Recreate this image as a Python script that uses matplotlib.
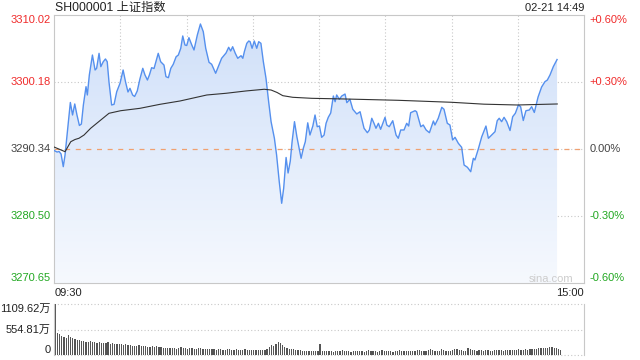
import numpy as np
import matplotlib
matplotlib.use('Agg')
import matplotlib.pyplot as plt
from matplotlib.colors import LinearSegmentedColormap

# minutes since 09:30 (lunch break removed, 240 = 15:00)
price_min = [0, 1.4, 2.3, 3.2, 4.2, 5.0, 7.4, 8.4, 9.4, 10.4, 11.5, 12.4, 13.3, 14.5, 15.1, 16.0,
             17.4, 18.6, 19.3, 20.4, 21.2, 22.3, 23.3, 24.1, 24.9, 26.1, 27.2, 28.4, 29.9, 31.3,
             32.4, 33.5, 34.4, 35.6, 36.5, 37.7, 38.9, 40.2, 41.2, 42.3, 43.2, 44.2, 45.3, 47.2,
             48.3, 49.8, 50.7, 51.8, 52.9, 54.0, 55.3, 56.3, 57.4, 58.3, 59.3, 60.1, 61.1, 62.4,
             63.4, 64.9, 66.3, 67.6, 68.7, 70.2, 71.4, 73.2, 74.4, 75.9, 77.9, 79.1, 80.0, 80.9,
             82.1, 83.2, 84.7, 85.5, 86.2, 87.3, 88.2, 88.8, 89.7, 90.7, 91.8, 92.7, 93.7, 94.8,
             96.0, 97.2, 98.3, 99.8, 100.8, 102.0, 103.1, 104.0, 105.1, 106.0, 107.0, 107.8, 108.9,
             110.0, 110.9, 111.9, 112.9, 113.8, 114.9, 115.9, 117.2, 118.2, 119.2, 120.2, 121.2,
             122.3, 123.2, 124.2, 125.3, 126.5, 127.3, 128.0, 129.2, 130.3, 131.8, 132.6, 134.0,
             135.3, 137.1, 138.6, 140.4, 141.9, 142.8, 143.9, 144.9, 145.8, 146.9, 147.9, 149.9,
             150.7, 151.8, 153.4, 154.9, 155.9, 157.0, 158.5, 159.7, 160.6, 161.5, 163.5, 164.2,
             166.1, 167.2, 168.5, 170.0, 171.8, 172.5, 174.0, 175.6, 176.6, 178.1, 179.3, 180.5,
             181.6, 183.1, 184.6, 185.7, 187.2, 188.7, 189.9, 190.6, 192.1, 193.7, 195.6, 196.7,
             198.2, 199.7, 200.7, 201.6, 202.7, 203.8, 205.0, 206.5, 207.7, 208.9, 210.3, 211.3,
             212.5, 213.7, 215.2, 216.3, 217.5, 219.2, 220.8, 222.3, 223.4, 224.6, 226.1, 227.8]
price_val = [3290.12, 3289.89, 3289.97, 3289.60, 3287.74, 3289.45, 3297.17, 3295.33, 3296.95,
             3295.33, 3293.79, 3294.01, 3296.80, 3299.49, 3298.27, 3301.21, 3304.14, 3301.94,
             3302.19, 3304.39, 3302.43, 3303.16, 3303.56, 3303.16, 3300.18, 3296.80, 3296.90,
             3298.75, 3299.99, 3301.94, 3300.18, 3298.71, 3299.25, 3298.27, 3298.05, 3298.86,
             3300.62, 3302.19, 3301.21, 3300.47, 3301.21, 3302.28, 3302.16, 3304.39, 3303.16,
             3302.67, 3300.96, 3300.81, 3302.19, 3302.78, 3303.89, 3304.14, 3305.13, 3306.94,
             3305.61, 3305.54, 3306.69, 3305.61, 3304.88, 3307.08, 3308.70, 3307.57, 3305.13,
             3303.07, 3302.78, 3301.46, 3302.43, 3303.66, 3304.44, 3305.28, 3304.73, 3305.36,
             3304.39, 3303.66, 3304.04, 3303.66, 3304.63, 3305.86, 3306.20, 3306.10, 3305.13,
             3306.20, 3305.13, 3306.10, 3305.86, 3303.16, 3300.72, 3297.28, 3294.35, 3291.91,
             3289.45, 3285.53, 3282.36, 3284.56, 3289.09, 3286.81, 3288.57, 3291.36, 3294.35,
             3292.10, 3290.63, 3288.97, 3290.44, 3291.41, 3294.18, 3292.39, 3293.71, 3295.33,
             3293.61, 3293.71, 3292.05, 3292.39, 3294.11, 3294.99, 3295.62, 3298.12, 3297.28,
             3298.27, 3297.64, 3298.12, 3298.41, 3297.14, 3297.64, 3296.17, 3295.48, 3295.81,
             3293.38, 3292.73, 3293.13, 3294.85, 3294.11, 3293.38, 3294.11, 3293.23, 3294.99,
             3293.86, 3293.61, 3294.49, 3292.39, 3291.91, 3293.13, 3293.13, 3294.11, 3293.71,
             3295.67, 3295.96, 3295.81, 3293.61, 3293.86, 3293.13, 3292.73, 3294.45, 3293.86,
             3294.85, 3296.46, 3296.17, 3294.11, 3293.86, 3291.66, 3292.05, 3291.17, 3290.58,
             3287.98, 3287.65, 3287.00, 3288.97, 3288.72, 3290.29, 3292.14, 3293.71, 3291.91,
             3292.39, 3292.88, 3294.49, 3294.85, 3294.35, 3294.99, 3294.35, 3293.05, 3295.08,
             3295.58, 3296.80, 3296.55, 3294.52, 3295.96, 3296.06, 3296.55, 3295.70, 3297.97,
             3299.44, 3300.22, 3300.47, 3301.21, 3302.43, 3303.48]

avg_min = [0, 2.7, 5.0, 7.6, 9.5, 11.3, 13.6, 16.6, 21.2, 24.9, 30.2, 38.9, 48.0, 57.1, 69.2,
           77.9, 86.9, 95.2, 98.3, 101.0, 103.6, 108.1, 116.8, 131.9, 155.8, 179.9, 194.7,
           209.8, 227.9]
avg_val = [3290.63, 3290.26, 3289.94, 3291.41, 3291.73, 3291.91, 3292.39, 3293.38, 3294.60,
           3295.58, 3295.96, 3296.31, 3296.90, 3297.39, 3298.27, 3298.52, 3298.86, 3299.11,
           3299.00, 3298.64, 3298.17, 3297.93, 3297.78, 3297.68, 3297.49, 3297.20, 3296.92,
           3296.80, 3296.95]

# volume per minute, in 万
volume = [1109.62, 472, 450, 420, 400, 380, 430, 400, 370, 350,
          330, 320, 300, 310, 290, 285, 300, 290, 275, 270,
          280, 270, 260, 265, 275, 250, 260, 245, 240, 250,
          235, 225, 240, 210, 220, 200, 205, 195, 210, 190,
          185, 195, 180, 175, 190, 170, 200, 180, 165, 160,
          150, 155, 145, 160, 150, 140, 145, 170, 150, 145,
          140, 145, 150, 135, 140, 150, 145, 130, 125, 135,
          120, 130, 125, 115, 120, 125, 110, 115, 125, 120,
          110, 115, 120, 105, 110, 115, 120, 110, 105, 115,
          110, 105, 100, 110, 105, 115, 125, 180, 210, 200,
          230, 285, 260, 220, 180, 150, 130, 125, 120, 110,
          115, 100, 95, 90, 85, 90, 80, 85, 80, 85,
          240, 90, 80, 85, 95, 80, 75, 90, 85, 80,
          110, 90, 85, 80, 75, 85, 80, 95, 85, 80,
          75, 90, 100, 85, 80, 90, 75, 80, 110, 95,
          85, 90, 80, 75, 85, 80, 100, 85, 80, 90,
          95, 80, 85, 90, 100, 110, 95, 85, 90, 100,
          120, 100, 90, 85, 95, 130, 110, 95, 90, 85,
          100, 120, 140, 110, 100, 90, 95, 150, 120, 110,
          105, 95, 100, 110, 90, 100, 105, 95, 90, 100,
          105, 110, 100, 95, 100, 110, 105, 115, 100, 110,
          120, 110, 115, 125, 110, 120, 130, 140, 135, 150,
          145, 155, 160, 150, 165, 170, 155, 150, 130, 100]

prev_close = 3290.34
price_ticks = [3270.65, 3280.50, 3290.34, 3300.18, 3310.02]
vol_ticks = [0, 554.81, 1109.62]
vol_labels = ['0', '554.81万', '1109.62万']
title = 'SH000001 上证指数'
stamp = '02-21 14:49'

RED = '#f02b2b'
GREEN = '#22a822'
GRAY = '#444444'
GRID = '#c8c8c8'
fonts = ['Liberation Sans', 'Noto Sans CJK SC']
plt.rcParams['font.family'] = fonts

fig = plt.figure(figsize=(6.4, 3.6), dpi=100)
ax = fig.add_axes([54 / 640, 1 - 283 / 360, 530 / 640, 268 / 360])
axv = fig.add_axes([54 / 640, 1 - 355 / 360, 530 / 640, 51 / 360])

# ---------------- price panel
ax.set_xlim(0, 240)
ax.set_ylim(price_ticks[0], price_ticks[-1])
ax.set_xticks([])
ax.set_yticks([])
for s in ax.spines.values():
    s.set_color(GRID)
    s.set_linewidth(0.8)

for x in range(30, 240, 30):
    ax.axvline(x, color=GRID, lw=0.8, ls=(0, (1, 2)), zorder=1)
for y in price_ticks[1:-1]:
    ax.axhline(y, color=GRID, lw=0.8, ls=(0, (1, 2)), zorder=1)
ax.axhline(prev_close, color='#f0a070', lw=0.9, ls=(0, (4, 4.5)), zorder=2)

# gradient fill under the line
fill = ax.fill_between(price_min, price_val, price_ticks[0], facecolor='none', edgecolor='none')
cmap = LinearSegmentedColormap.from_list('bl', ['#f6f9fe', '#d0e0f9'])
grad = np.linspace(1, 0, 256).reshape(-1, 1)
im = ax.imshow(grad, cmap=cmap, aspect='auto', origin='upper',
               extent=[0, 240, price_ticks[0], max(price_val)], zorder=1.5)
im.set_clip_path(fill.get_paths()[0], transform=ax.transData)

ax.plot(price_min, price_val, color='#5590ee', lw=1.0, zorder=3)
ax.plot(avg_min, avg_val, color='#333333', lw=0.8, zorder=4)

tr = ax.get_yaxis_transform()
for i, p in enumerate(price_ticks):
    pct = (p - prev_close) / prev_close * 100
    if abs(pct) < 0.005:
        col = GRAY
        pct_txt = '0.00%'
    elif pct > 0:
        col = RED
        pct_txt = '+%.2f%%' % pct
    else:
        col = GREEN
        pct_txt = '%.2f%%' % pct
    va = 'center'
    if i == 0:
        va = 'bottom'
    if i == len(price_ticks) - 1:
        va = 'top'
    ax.text(-0.006, p, '%.2f' % p, transform=tr, ha='right', va=va, color=col, fontsize=8)
    ax.text(1.011, p, pct_txt, transform=tr, ha='left', va=va, color=col, fontsize=8)

fig.text(55 / 640, 1 - 8 / 360, title, ha='left', va='center', fontsize=8.8, color='#222222')
fig.text(584 / 640, 1 - 8 / 360, stamp, ha='right', va='center', fontsize=8, color='#222222')
fig.text(55 / 640, 1 - 293 / 360, '09:30', ha='left', va='center', fontsize=8, color='#222222')
fig.text(584 / 640, 1 - 293 / 360, '15:00', ha='right', va='center', fontsize=8, color='#222222')
fig.text(573 / 640, 1 - 279 / 360, 'sina.com', ha='right', va='center', fontsize=8, color='#cccccc')

# ---------------- volume panel
axv.set_xlim(0, 240)
axv.set_ylim(0, vol_ticks[-1])
axv.set_xticks([])
axv.set_yticks([])
for k in ['top', 'bottom']:
    axv.spines[k].set_visible(False)
for k in ['left', 'right']:
    axv.spines[k].set_color(GRID)
    axv.spines[k].set_linewidth(0.8)
for y in vol_ticks:
    axv.axhline(y, color=GRID, lw=0.8, ls=(0, (1, 2)), clip_on=False, zorder=1)
axv.bar(np.arange(len(volume)) + 0.5, volume, width=0.55, color='#555555', zorder=2)

trv = axv.get_yaxis_transform()
axv.text(-0.006, vol_ticks[0], vol_labels[0], transform=trv, ha='right', va='bottom', fontsize=8, color='#222222')
axv.text(-0.006, vol_ticks[1], vol_labels[1], transform=trv, ha='right', va='center', fontsize=8, color='#222222')
axv.text(-0.006, vol_ticks[2], vol_labels[2], transform=trv, ha='right', va='top', fontsize=8, color='#222222')

fig.savefig('out.png', dpi=100)
